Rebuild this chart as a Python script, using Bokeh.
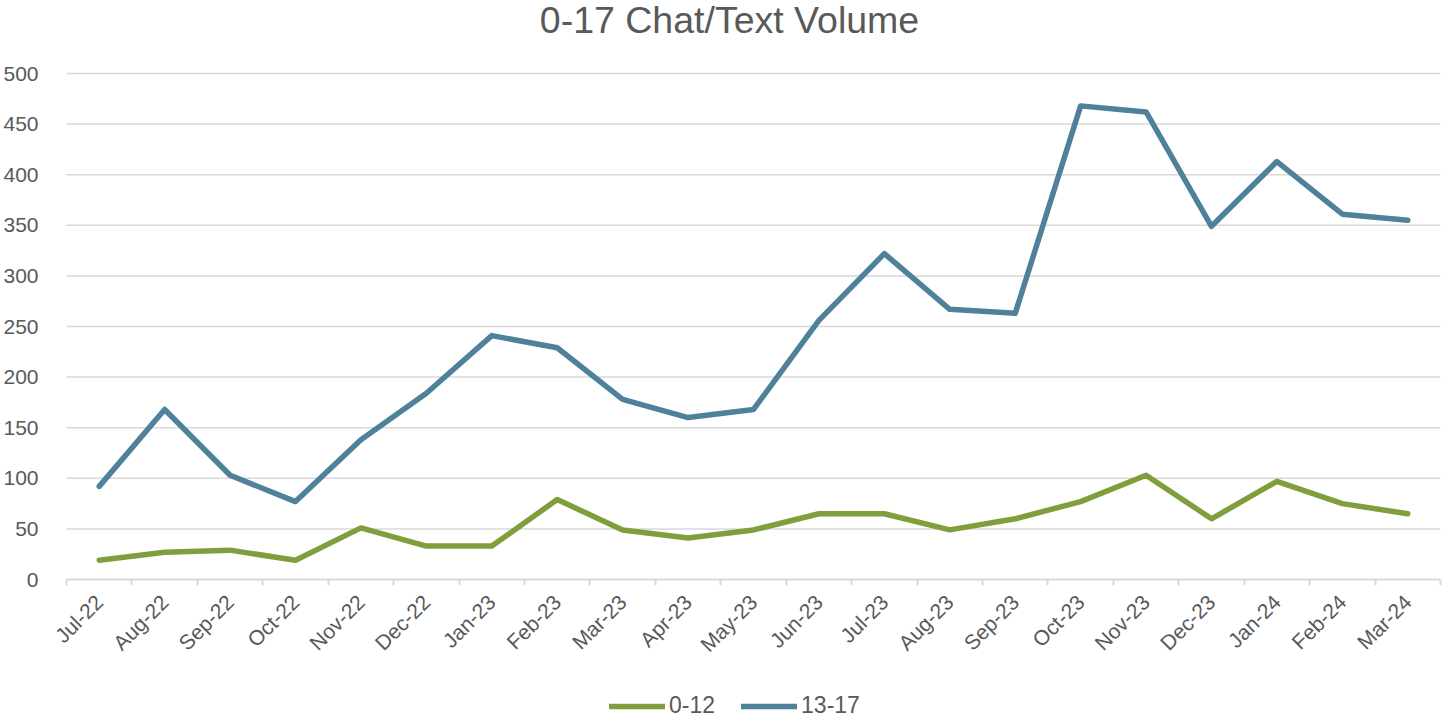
from bokeh.plotting import figure
from bokeh.models import Range1d, FixedTicker, Legend, LegendItem, Label
from bokeh.embed import file_html
from bokeh.resources import INLINE
import math

months = ["Jul-22", "Aug-22", "Sep-22", "Oct-22", "Nov-22", "Dec-22", "Jan-23", "Feb-23",
          "Mar-23", "Apr-23", "May-23", "Jun-23", "Jul-23", "Aug-23", "Sep-23", "Oct-23",
          "Nov-23", "Dec-23", "Jan-24", "Feb-24", "Mar-24"]
age_0_12 = [19, 27, 29, 19, 51, 33, 33, 79, 49, 41, 49, 65, 65, 49, 60, 77, 103, 60, 97, 75, 65]
age_13_17 = [92, 168, 103, 77, 138, 184, 241, 229, 178, 160, 168, 256, 322, 267, 263, 468, 462, 349, 413, 361, 355]
y_ticks = [0, 50, 100, 150, 200, 250, 300, 350, 400, 450, 500]
title_text = "0-17 Chat/Text Volume"

FONT = "Liberation Sans"
GREY = "#595959"
GRID = "#d9d9d9"

# layout in pixels: the value area 0..500 spans y 73..579, categories span x 66..1440
FIG_W, FIG_H = 1444, 719
FRAME_L = 46
AREA_L, AREA_R = 66, 1440
TOP, ZERO_Y = 73, 579
n = len(months)
px_per_unit = (ZERO_Y - TOP) / 500.0
px_per_cat = (AREA_R - AREA_L) / n
y_start = -(FIG_H - ZERO_Y) / px_per_unit
y_end = 500 + TOP / px_per_unit
x_start = -0.5 - (AREA_L - FRAME_L) / px_per_cat
x_end = n - 0.5 + (FIG_W - AREA_R) / px_per_cat

xs = list(range(n))

p = figure(width=FIG_W, height=FIG_H, output_backend="svg", toolbar_location=None,
           x_range=Range1d(x_start, x_end), y_range=Range1d(y_start, y_end),
           min_border_left=FRAME_L, min_border_right=0, min_border_top=0, min_border_bottom=0)

p.outline_line_color = None
p.xgrid.grid_line_color = None
p.ygrid.grid_line_color = None

# horizontal gridlines over the category area only
grid_y = [t for t in y_ticks if t > 0]
p.segment(x0=[-0.5] * len(grid_y), x1=[n - 0.5] * len(grid_y), y0=grid_y, y1=grid_y,
          line_color=GRID, line_width=1.5)

p.xaxis.fixed_location = 0
p.xaxis.bounds = (-0.5, n - 0.5)
p.xaxis.ticker = FixedTicker(ticks=xs, minor_ticks=[i - 0.5 for i in range(n + 1)])
p.xaxis.major_label_overrides = {i: m for i, m in enumerate(months)}
p.xaxis.major_label_orientation = math.pi / 4
p.xaxis.major_label_text_font = FONT
p.xaxis.major_label_text_font_size = "21px"
p.xaxis.major_label_text_color = GREY
p.xaxis.major_tick_line_color = None
p.xaxis.minor_tick_line_color = GRID
p.xaxis.minor_tick_line_width = 2
p.xaxis.minor_tick_in = 0
p.xaxis.minor_tick_out = 6
p.xaxis.axis_line_color = GRID
p.xaxis.axis_line_width = 2
p.xaxis.major_label_standoff = 13

p.yaxis.ticker = FixedTicker(ticks=y_ticks)
p.yaxis.major_label_text_font = FONT
p.yaxis.major_label_text_font_size = "21px"
p.yaxis.major_label_text_color = GREY
p.yaxis.major_tick_line_color = None
p.yaxis.minor_tick_line_color = None
p.yaxis.axis_line_color = None
p.yaxis.major_label_standoff = 2

r1 = p.line(xs, age_0_12, line_color="#7F9F3C", line_width=5.5, line_join="round", line_cap="round")
r2 = p.line(xs, age_13_17, line_color="#4F819A", line_width=5.5, line_join="round", line_cap="round")

p.add_layout(Label(x=729 - FRAME_L, y=FIG_H - 19, x_units="screen", y_units="screen",
                   text=title_text, text_align="center", text_baseline="middle",
                   text_font=FONT, text_font_size="37.5px", text_color=GREY))

legend = Legend(items=[LegendItem(label="0-12", renderers=[r1]),
                       LegendItem(label="13-17", renderers=[r2])],
                orientation="horizontal", location=(609 - FRAME_L, 0),
                label_text_font=FONT, label_text_font_size="23px", label_text_color=GREY,
                glyph_width=56, glyph_height=22, spacing=26, label_standoff=4,
                border_line_color=None, background_fill_alpha=0, margin=0, padding=2)
p.add_layout(legend, "center")

open("out.html", "w").write(file_html(p, INLINE))
